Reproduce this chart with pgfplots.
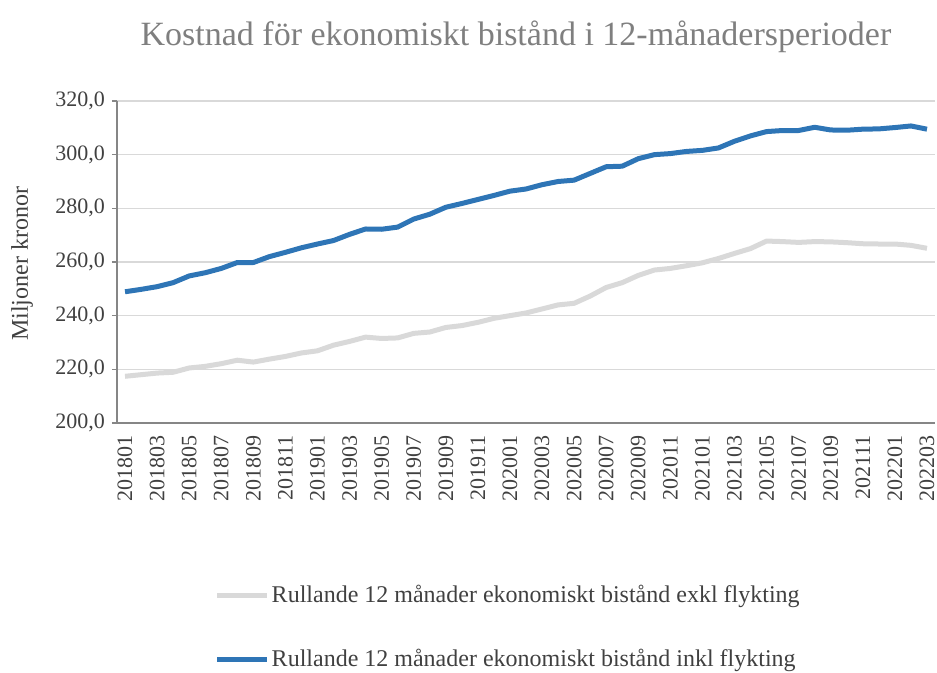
\documentclass[border=0pt]{standalone}
\usepackage{pgfplots}
\pgfplotsset{compat=1.18}
\usepackage{pgfplotstable}
\usepackage{fontspec}
\setmainfont{Liberation Serif}
\definecolor{bluel}{HTML}{2E75B6}
\definecolor{grayl}{HTML}{D9D9D9}
\definecolor{txt}{HTML}{404040}
\definecolor{ttl}{HTML}{7F7F7F}
\definecolor{axl}{HTML}{868686}
\definecolor{grd}{HTML}{D9D9D9}

\pgfplotstableread{
x y
0 217.4
1 218.0
2 218.6
3 218.9
4 220.5
5 221.1
6 222.1
7 223.4
8 222.7
9 223.8
10 224.8
11 226.1
12 226.9
13 229.0
14 230.4
15 232.0
16 231.5
17 231.7
18 233.4
19 233.9
20 235.6
21 236.3
22 237.5
23 239.0
24 240.0
25 241.0
26 242.5
27 244.0
28 244.6
29 247.3
30 250.5
31 252.3
32 255.0
33 257.0
34 257.6
35 258.6
36 259.7
37 261.3
38 263.2
39 265.0
40 267.8
41 267.6
42 267.3
43 267.6
44 267.5
45 267.2
46 266.8
47 266.7
48 266.7
49 266.2
50 265.1
}\exkl

\pgfplotstableread{
x y
0 248.9
1 249.8
2 250.8
3 252.3
4 254.8
5 256.0
6 257.6
7 259.8
8 259.8
9 262.0
10 263.6
11 265.3
12 266.7
13 268.0
14 270.3
15 272.3
16 272.2
17 273.0
18 276.0
19 277.8
20 280.4
21 281.8
22 283.3
23 284.8
24 286.4
25 287.2
26 288.8
27 290.0
28 290.5
29 293.0
30 295.5
31 295.7
32 298.5
33 300.0
34 300.4
35 301.2
36 301.6
37 302.5
38 305.0
39 307.0
40 308.6
41 309.0
42 309.0
43 310.2
44 309.2
45 309.1
46 309.5
47 309.6
48 310.1
49 310.7
50 309.5
}\inkl

\begin{document}
\begin{tikzpicture}
\path[use as bounding box] (0,0) rectangle (468.5pt,336.5pt);
\node[text=ttl, font=\fontsize{17}{20}\selectfont] at (258pt,318pt) {Kostnad för ekonomiskt bistånd i 12-månadersperioder};
\node[text=txt, rotate=90, font=\fontsize{12}{14}\selectfont] at (11pt,204.5pt) {Miljoner kronor};
\begin{axis}[
  at={(58.5pt,125pt)}, anchor=south west,
  scale only axis, width=409pt, height=161pt,
  xmin=-0.5, xmax=50.5, ymin=200, ymax=320,
  axis x line*=bottom, axis y line*=left,
  axis line style={draw=axl, line width=0.8pt},
  xtick={0,2,...,50},
  xticklabels={201801,201803,201805,201807,201809,201811,201901,201903,201905,201907,201909,201911,202001,202003,202005,202007,202009,202011,202101,202103,202105,202107,202109,202111,202201,202203},
  x tick label style={rotate=90, anchor=east, font=\fontsize{11}{13}\selectfont, text=txt},
  xtick style={draw=none},
  ytick={200,220,...,320},
  y tick label style={font=\fontsize{11}{13}\selectfont, text=txt},
  yticklabel style={/pgf/number format/.cd, fixed, fixed zerofill, precision=1, use comma, assume math mode=true},
  ytick style={draw=axl, line width=0.6pt},
  tick align=outside, major tick length=2.5pt,
  ymajorgrids, grid style={draw=grd, line width=0.7pt},
  legend style={at={(0.119,-0.49)}, anchor=north west, draw=none, fill=none,
    font=\fontsize{12}{14}\selectfont, text=txt, row sep=18pt, inner sep=0pt,
    nodes={inner xsep=1pt}},
  legend cell align=left,
  legend image code/.code={\draw[#1, line width=2.5pt] (0pt,0pt) -- (25pt,0pt);},
]
\addplot[grayl, line width=2.5pt, line join=round] table[x=x,y=y]{\exkl};
\addlegendentry{Rullande 12 månader ekonomiskt bistånd exkl flykting}
\addplot[bluel, line width=2.5pt, line join=round] table[x=x,y=y]{\inkl};
\addlegendentry{Rullande 12 månader ekonomiskt bistånd inkl flykting}
\end{axis}
\end{tikzpicture}
\end{document}
